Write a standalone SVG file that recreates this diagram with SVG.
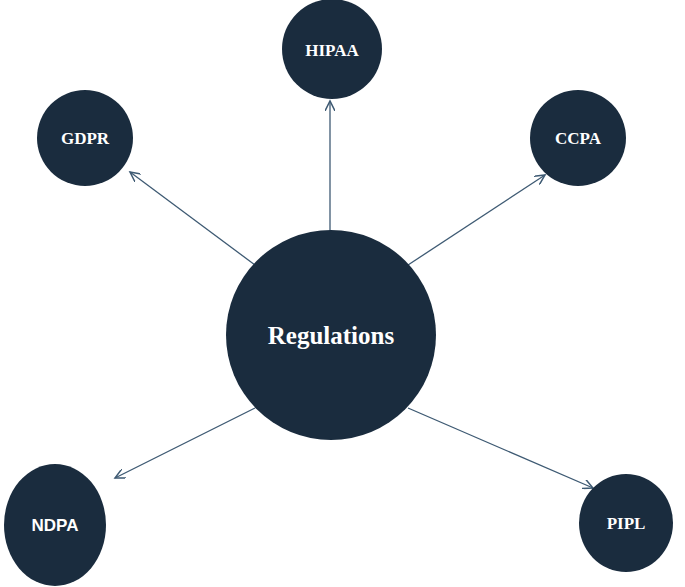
<svg xmlns="http://www.w3.org/2000/svg" width="685" height="587" viewBox="0 0 685 587">
<style>
.n{fill:#1a2c3e}
.t{fill:#fff;font-family:"Liberation Serif",serif;font-weight:bold;text-anchor:middle;dominant-baseline:central}
.c line{stroke:#3e5a73;stroke-width:1.3;marker-end:url(#a)}
</style>
<defs><marker id="a" markerWidth="12" markerHeight="10" refX="10" refY="5" orient="auto" markerUnits="userSpaceOnUse"><path d="M0,0 L10,5 L0,10" fill="none" stroke="#3e5a73" stroke-width="1.5"/></marker></defs>
<rect width="685" height="587" fill="#fff"/>
<g class="c">
<line x1="330" y1="232" x2="330" y2="101"/>
<line x1="255" y1="265" x2="130" y2="172"/>
<line x1="408" y1="265" x2="545" y2="175"/>
<line x1="255" y1="408" x2="115" y2="478"/>
<line x1="408" y1="408" x2="593" y2="488"/>
</g>
<g id="regulations"><circle class="n" cx="331" cy="335" r="105"/><text class="t" x="331" y="335" font-size="25">Regulations</text></g>
<g id="hipaa"><circle class="n" cx="332" cy="49" r="50"/><text class="t" x="332" y="50" font-size="17">HIPAA</text></g>
<g id="gdpr"><circle class="n" cx="85" cy="138" r="48"/><text class="t" x="85" y="138" font-size="17">GDPR</text></g>
<g id="ccpa"><circle class="n" cx="578" cy="138" r="48"/><text class="t" x="578" y="138" font-size="17">CCPA</text></g>
<g id="ndpa"><ellipse class="n" cx="55" cy="525" rx="51" ry="61"/><text class="t" x="55" y="525" font-size="17" style="font-family:'Liberation Sans',sans-serif">NDPA</text></g>
<g id="pipl"><ellipse class="n" cx="626" cy="523" rx="47" ry="49"/><text class="t" x="626" y="523" font-size="17">PIPL</text></g>
</svg>
